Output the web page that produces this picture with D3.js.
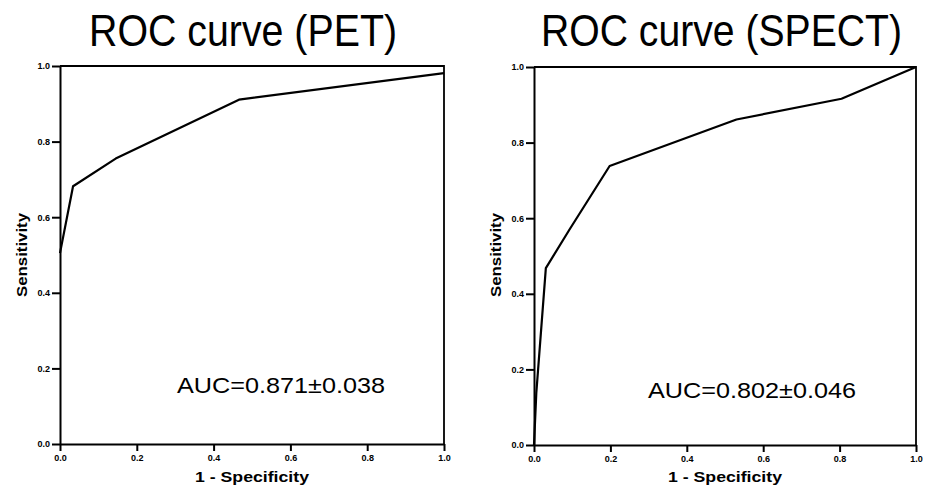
<!DOCTYPE html>
<html>
<head>
<meta charset="utf-8">
<script src="https://cdn.jsdelivr.net/npm/d3@7"></script>
<style>
  body { margin: 0; background: #fff; }
  svg { display: block; }
  .tick text { font-family: "Liberation Sans", Arial, sans-serif; font-weight: bold; font-size: 9px; fill: #000; }
  .axis path, .axis line { stroke: #000; stroke-width: 2; }
</style>
</head>
<body>
<div id="chart"></div>
<script>
// values
var ticks = [0, 0.2, 0.4, 0.6, 0.8, 1.0];
var tickLabels = ["0.0", "0.2", "0.4", "0.6", "0.8", "1.0"];

var petFpr = [0, 0.034, 0.145, 0.466, 1.0];
var petTpr = [0.505, 0.682, 0.755, 0.911, 0.981];

var spectFpr = [0, 0.006, 0.031, 0.093, 0.198, 0.53, 0.805, 1.0];
var spectTpr = [0, 0.137, 0.468, 0.57, 0.738, 0.861, 0.916, 1.0];

var titles = ["ROC curve (PET)", "ROC curve (SPECT)"];
var aucLabels = ["AUC=0.871\u00b10.038", "AUC=0.802\u00b10.046"];

var width = 931, height = 489;

var svg = d3.select("#chart")
  .append("svg")
  .attr("width", width)
  .attr("height", height);

var panels = [
  { left: 60, top: 66, w: 384, h: 378, fpr: petFpr, tpr: petTpr, title: titles[0], titleX: 89, titleW: 308, auc: aucLabels[0], aucX: 177, aucY: 393, ylabX: 22 },
  { left: 534, top: 67, w: 382, h: 378, fpr: spectFpr, tpr: spectTpr, title: titles[1], titleX: 541, titleW: 361, auc: aucLabels[1], aucX: 648, aucY: 398, ylabX: 496 }
];

panels.forEach(function (p) {
  var x = d3.scaleLinear().domain([0, 1]).range([p.left, p.left + p.w]);
  var y = d3.scaleLinear().domain([0, 1]).range([p.top + p.h, p.top]);

  var g = svg.append("g");

  // title (tall, narrow lettering)
  g.append("text")
    .attr("transform", "translate(" + p.titleX + ",46) scale(1,1.15)")
    .attr("textLength", p.titleW)
    .attr("lengthAdjust", "spacingAndGlyphs")
    .style("font-family", "'Liberation Sans', Arial, sans-serif")
    .style("font-size", "39px")
    .text(p.title);

  // frame (top and right)
  g.append("path")
    .attr("d", "M" + x(0) + "," + y(1) + "H" + x(1) + "V" + y(0))
    .attr("fill", "none")
    .attr("stroke", "#000")
    .attr("stroke-width", 1.8);

  var xAxis = d3.axisBottom(x)
    .tickValues(ticks)
    .tickFormat(function (d, i) { return tickLabels[i]; })
    .tickSize(7)
    .tickSizeOuter(0)
    .tickPadding(4);

  var yAxis = d3.axisLeft(y)
    .tickValues(ticks)
    .tickFormat(function (d, i) { return tickLabels[i]; })
    .tickSize(8)
    .tickSizeOuter(0)
    .tickPadding(2);

  g.append("g")
    .attr("class", "axis")
    .attr("transform", "translate(0," + y(0) + ")")
    .call(xAxis);

  g.append("g")
    .attr("class", "axis")
    .attr("transform", "translate(" + x(0) + ",0)")
    .call(yAxis);

  // axis labels
  g.append("text")
    .attr("x", (x(0) + x(1)) / 2)
    .attr("y", 482)
    .attr("text-anchor", "middle")
    .attr("textLength", 114)
    .attr("lengthAdjust", "spacingAndGlyphs")
    .style("font-family", "'Liberation Sans', Arial, sans-serif")
    .style("font-weight", "bold")
    .style("font-size", "15px")
    .text("1 - Specificity");

  g.append("text")
    .attr("transform", "translate(" + (p.ylabX + 5) + "," + 255 + ") rotate(-90)")
    .attr("text-anchor", "middle")
    .attr("textLength", 84)
    .attr("lengthAdjust", "spacingAndGlyphs")
    .style("font-family", "'Liberation Sans', Arial, sans-serif")
    .style("font-weight", "bold")
    .style("font-size", "15px")
    .text("Sensitivity");

  // ROC curve
  var pts = p.fpr.map(function (d, i) { return [d, p.tpr[i]]; });
  var line = d3.line()
    .x(function (d) { return x(d[0]); })
    .y(function (d) { return y(d[1]); });

  g.append("path")
    .datum(pts)
    .attr("d", line)
    .attr("fill", "none")
    .attr("stroke", "#000")
    .attr("stroke-width", 2.2)
    .attr("stroke-linejoin", "round");

  // AUC
  g.append("text")
    .attr("x", p.aucX)
    .attr("y", p.aucY)
    .attr("textLength", 208)
    .attr("lengthAdjust", "spacingAndGlyphs")
    .style("font-family", "'Liberation Sans', Arial, sans-serif")
    .style("font-size", "22px")
    .text(p.auc);
});
</script>
</body>
</html>
